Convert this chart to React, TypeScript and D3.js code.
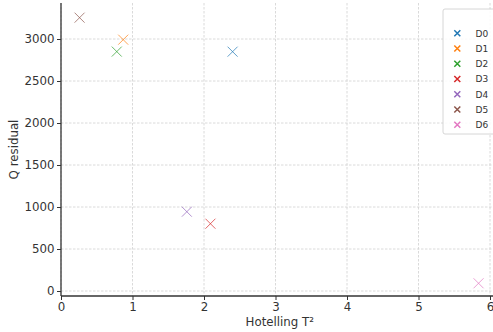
import React, { useEffect, useRef } from 'react';
import * as d3 from 'd3';

const labels = ['D0', 'D1', 'D2', 'D3', 'D4', 'D5', 'D6'];
const hotelling = [2.4, 0.87, 0.78, 2.09, 1.76, 0.26, 5.84];
const qResidual = [2849, 2992, 2850, 801, 944, 3254, 92];
const colors = ['#1f77b4', '#ff7f0e', '#2ca02c', '#d62728', '#9467bd', '#8c564b', '#e377c2'];
const xTicks = [0, 1, 2, 3, 4, 5, 6];
const yTicks = [0, 500, 1000, 1500, 2000, 2500, 3000];

const W = 493;
const H = 332;

const App = () => {
  const ref = useRef<SVGSVGElement>(null);

  useEffect(() => {
    const svg = d3.select(ref.current);
    svg.selectAll('*').remove();

    const left = 61;
    const top = 3;
    const bottom = 296;
    const pxPerUnit = 71.5;

    //scales
    const x = d3.scaleLinear().domain([0, 6]).range([left, left + 6 * pxPerUnit]);
    const y = d3.scaleLinear().domain([0, 3000]).range([291, 39]);
    const right = x(6.12);

    const font = 'DejaVu Sans, sans-serif';
    const ink = '#333';

    //grid
    const grid = svg.append('g');
    xTicks.forEach((t) => {
      grid.append('line')
        .attr('x1', x(t)).attr('x2', x(t))
        .attr('y1', top).attr('y2', bottom)
        .attr('stroke', '#d0d0d0').attr('stroke-width', 0.8)
        .attr('stroke-dasharray', '2.5,1.5');
    });
    yTicks.forEach((t) => {
      grid.append('line')
        .attr('x1', left).attr('x2', right)
        .attr('y1', y(t)).attr('y2', y(t))
        .attr('stroke', '#d0d0d0').attr('stroke-width', 0.8)
        .attr('stroke-dasharray', '2.5,1.5');
    });

    //axes
    const xAxis = svg.append('g')
      .attr('transform', `translate(0,${bottom})`)
      .call(d3.axisBottom(x).tickValues(xTicks).tickSize(4).tickPadding(2.5).tickFormat(d3.format('d')));
    xAxis.select('.domain').remove();
    xAxis.append('line').attr('x1', left).attr('x2', right).attr('stroke', ink).attr('stroke-width', 1.3);

    const yAxis = svg.append('g')
      .attr('transform', `translate(${left},0)`)
      .call(d3.axisLeft(y).tickValues(yTicks).tickSize(4).tickPadding(2.5).tickFormat(d3.format('d')));
    yAxis.select('.domain').remove();
    yAxis.append('line').attr('y1', top).attr('y2', bottom).attr('stroke', ink).attr('stroke-width', 1.3);

    [xAxis, yAxis].forEach((g) => {
      g.selectAll('.tick line').attr('stroke', ink).attr('stroke-width', 1);
      g.selectAll('.tick text').attr('fill', ink).style('font-family', font).style('font-size', '11.8px');
    });

    //axis labels
    svg.append('text')
      .attr('x', (left + right) / 2).attr('y', 326)
      .attr('text-anchor', 'middle')
      .attr('fill', ink).style('font-family', font).style('font-size', '11.8px')
      .text('Hotelling T²');
    svg.append('text')
      .attr('transform', `translate(18,${(top + bottom) / 2}) rotate(-90)`)
      .attr('text-anchor', 'middle')
      .attr('fill', ink).style('font-family', font).style('font-size', '11.8px')
      .text('Q residual');

    //markers
    const cross = (g: any, cx: number, cy: number, r: number, color: string, w: number, op: number) => {
      g.append('path')
        .attr('d', `M${cx - r},${cy - r}L${cx + r},${cy + r}M${cx - r},${cy + r}L${cx + r},${cy - r}`)
        .attr('stroke', color).attr('stroke-width', w).attr('opacity', op).attr('fill', 'none');
    };
    const pts = svg.append('g');
    labels.forEach((_, i) => {
      cross(pts, x(hotelling[i]), y(qResidual[i]), 5, colors[i], 1, 0.7);
    });

    //legend
    const lg = svg.append('g');
    lg.append('rect')
      .attr('x', 443).attr('y', 9).attr('width', 60).attr('height', 125).attr('rx', 2)
      .attr('fill', '#fff').attr('fill-opacity', 0.85)
      .attr('stroke', '#ccc').attr('stroke-width', 0.8);
    labels.forEach((l, i) => {
      const ly = 33.3 + i * 15.25;
      cross(lg, 457.3, ly, 3, colors[i], 1.5, 1);
      lg.append('text')
        .attr('x', 475.5).attr('y', ly + 3.3)
        .attr('fill', ink).style('font-family', font).style('font-size', '9px')
        .text(l);
    });
  }, []);

  return <svg ref={ref} width={W} height={H} style={{ position: 'absolute', left: 0, top: 0, background: '#fff' }} />;
};

export default App;
